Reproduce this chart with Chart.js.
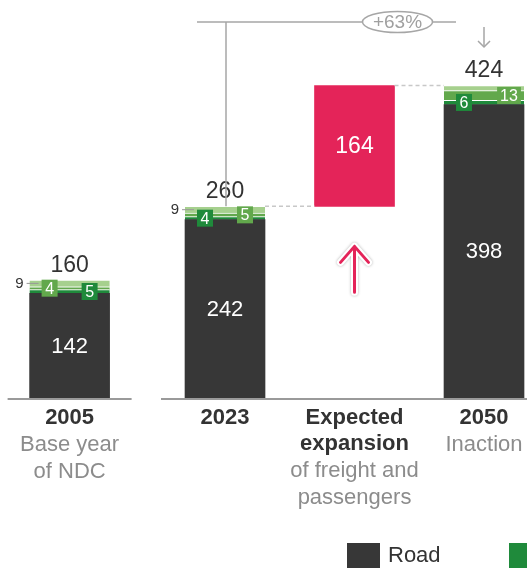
<!DOCTYPE html>
<html>
<head>
<meta charset="utf-8">
<script src="https://cdn.jsdelivr.net/npm/chart.js@4/dist/chart.umd.min.js"></script>
<style>
html, body { margin: 0; padding: 0; background: #fff; overflow: hidden; }
#wrap { width: 527px; height: 568px; }
</style>
</head>
<body>
<div id="wrap"><canvas id="myChart" width="527" height="568"></canvas></div>
<script>
// categories and where they sit along the x scale (gap after 2005)
var categories = ['2005', '2023', 'Expected expansion', '2050'];
var xPos = [0, 1.2, 2.2, 3.2];
var boldLabels = [['2005'], ['2023'], ['Expected', 'expansion'], ['2050']];
var subLabels = [['Base year', 'of NDC'], [], ['of freight and', 'passengers'], ['Inaction']];

// emissions by mode
var road = [142, 242, null, 398];
var rail = [5, 4, null, 6];
var water = [4, 5, null, 13];
var air = [9, 9, null, 7];
var airLabelled = [true, true, false, false];
var expansion = [null, null, [260, 424], null];
var totals = [160, 260, null, 424];
var growth = '+63%';

var seriesNames = ['Road', 'Rail', 'Waterways', 'Aviation'];
var colors = ['#373737', '#1f8a3b', '#62a84c', '#a6d08e'];
var red = '#e42459';
var FONT = '"Liberation Sans", Arial, sans-serif';

function pts(arr) {
  var out = [];
  arr.forEach(function (v, i) { if (v !== null) out.push({ x: xPos[i], y: v }); });
  return out;
}

function txt(c, s, x, y, font, color, align, base) {
  c.font = font;
  c.fillStyle = color;
  c.textAlign = align || 'center';
  c.textBaseline = base || 'middle';
  c.fillText(s, x, y);
}

function line(c, x1, y1, x2, y2) {
  c.beginPath(); c.moveTo(x1, y1); c.lineTo(x2, y2); c.stroke();
}

var annot = {
  id: 'annot',
  afterDatasetsDraw: function (chart) {
    var c = chart.ctx, xs = chart.scales.x, ys = chart.scales.y, area = chart.chartArea;
    var bw = 80;
    c.save();

    // split baseline
    var x0 = xs.getPixelForValue(xPos[0]), x1 = xs.getPixelForValue(xPos[1]);
    c.strokeStyle = '#9a9a9a'; c.lineWidth = 2;
    line(c, x0 - 62, area.bottom + 1, x0 + 62, area.bottom + 1);
    line(c, x1 - 64, area.bottom + 1, area.right, area.bottom + 1);

    categories.forEach(function (cat, i) {
      var x = xs.getPixelForValue(xPos[i]);
      // axis labels
      var y = area.bottom + 20;
      boldLabels[i].forEach(function (s) { txt(c, s, x, y, 'bold 22px ' + FONT, '#333'); y += 26; });
      y += 1;
      subLabels[i].forEach(function (s) { txt(c, s, x, y, '22px ' + FONT, '#8c8c8c'); y += 27; });

      if (road[i] === null) return;
      // road value
      var yr = ys.getPixelForValue(road[i]);
      txt(c, String(road[i]), x, (yr + ys.getPixelForValue(0)) / 2 + 1, '22px ' + FONT, '#fff');
      // total
      txt(c, String(totals[i]), x, ys.getPixelForValue(totals[i]) - 8, '23px ' + FONT, '#333', 'center', 'alphabetic');

      // boxed green labels: smaller one on the left
      var segs = [
        { v: rail[i], col: colors[1], lo: road[i] },
        { v: water[i], col: colors[2], lo: road[i] + rail[i] }
      ];
      var order = segs.slice().sort(function (a, b) { return a.v - b.v; });
      order.forEach(function (s, k) {
        var cy = ys.getPixelForValue(s.lo + s.v / 2);
        var label = String(s.v);
        c.font = '16px ' + FONT;
        var w = Math.max(16, c.measureText(label).width + 6);
        var cx = k === 0 ? x - 20 : x + 20 + (w > 16 ? 5 : 0);
        c.fillStyle = s.col;
        c.fillRect(cx - w / 2, cy - 8.5, w, 17);
        txt(c, label, cx, cy + 1, '16px ' + FONT, '#fff');
      });

      // small top-segment label with leader
      if (airLabelled[i]) {
        var ya = ys.getPixelForValue(road[i] + rail[i] + water[i] + air[i] / 2);
        c.strokeStyle = '#999'; c.lineWidth = 1;
        line(c, x - bw / 2 - 3, ya, x - bw / 2 + 9, ya);
        txt(c, String(air[i]), x - bw / 2 - 6, ya, '15px ' + FONT, '#333', 'right');
      }
    });

    // expansion bar value and connectors
    var xe = xs.getPixelForValue(xPos[2]);
    var e = expansion[2];
    var yLo = ys.getPixelForValue(e[0]), yHi = ys.getPixelForValue(e[1]);
    txt(c, String(e[1] - e[0]), xe, (yLo + yHi) / 2 + 1, '23px ' + FONT, '#fff');
    c.strokeStyle = '#c8c8c8'; c.lineWidth = 1.5; c.setLineDash([4, 3]);
    line(c, x1 + bw / 2, yLo, xe - bw / 2, yLo);
    var x3 = xs.getPixelForValue(xPos[3]);
    line(c, xe + bw / 2, yHi, x3 - bw / 2, yHi);
    c.setLineDash([]);

    // up arrow below the expansion bar
    var tip = yLo + 40, bot = tip + 46;
    c.lineCap = 'round'; c.lineJoin = 'round';
    c.shadowColor = 'rgba(0,0,0,0.3)'; c.shadowBlur = 3;
    c.strokeStyle = '#fff'; c.lineWidth = 7;
    c.beginPath();
    c.moveTo(xe, bot); c.lineTo(xe, tip);
    c.moveTo(xe - 14, tip + 16); c.lineTo(xe, tip); c.lineTo(xe + 14, tip + 16);
    c.stroke();
    c.shadowColor = 'transparent'; c.shadowBlur = 0;
    c.strokeStyle = red; c.lineWidth = 3;
    c.stroke();

    // growth bracket at the top
    var yb = area.top + 22;
    c.strokeStyle = '#a6a6a6'; c.lineWidth = 1.5; c.lineCap = 'butt';
    line(c, x1 + 1, ys.getPixelForValue(totals[1]), x1 + 1, yb);
    line(c, x1 - 28, yb, x3 - 28, yb);
    var ex = (x1 + x3) / 2 + 43;
    c.beginPath();
    c.ellipse(ex, yb, 35, 10.5, 0, 0, Math.PI * 2);
    c.fillStyle = '#fff'; c.fill(); c.stroke();
    txt(c, growth, ex, yb + 1, '19px ' + FONT, '#a0a0a0');
    // down arrow to 2050 total
    c.lineWidth = 1.5;
    line(c, x3, yb + 5, x3, yb + 25);
    c.beginPath(); c.moveTo(x3 - 6, yb + 19); c.lineTo(x3, yb + 25); c.lineTo(x3 + 6, yb + 19); c.stroke();

    // legend (continues past the right edge)
    seriesNames.forEach(function (n, k) {
      var lx = 347 + k * 162;
      c.fillStyle = colors[k];
      c.fillRect(lx, 543, 33, 26);
      txt(c, n, lx + 41, 556, '22px ' + FONT, '#333', 'left');
    });

    c.restore();
  }
};

var ctx = document.getElementById('myChart').getContext('2d');
var chart = new Chart(ctx, {
  type: 'bar',
  data: {
    datasets: [
      { label: seriesNames[0], data: pts(road), backgroundColor: colors[0], stack: 'a' },
      { label: seriesNames[1], data: pts(rail), backgroundColor: colors[1], borderColor: '#fff', borderWidth: { top: 1 }, borderSkipped: false, stack: 'a' },
      { label: seriesNames[2], data: pts(water), backgroundColor: colors[2], borderColor: '#fff', borderWidth: { top: 1 }, borderSkipped: false, stack: 'a' },
      { label: seriesNames[3], data: pts(air), backgroundColor: colors[3], borderColor: '#fff', borderWidth: { top: 1 }, borderSkipped: false, stack: 'a' },
      { label: 'Expansion', data: pts(expansion), backgroundColor: red, stack: 'a' }
    ]
  },
  options: {
    responsive: false,
    animation: false,
    devicePixelRatio: 1,
    barThickness: 80,
    layout: { padding: { left: 0, right: 0, top: 0, bottom: 170 } },
    plugins: { legend: { display: false }, tooltip: { enabled: false } },
    scales: {
      x: { type: 'linear', min: -0.5375, max: 3.532, stacked: true, display: false, offset: false },
      y: { min: 0, max: 540, stacked: true, display: false }
    }
  },
  plugins: [annot]
});
</script>
</body>
</html>
